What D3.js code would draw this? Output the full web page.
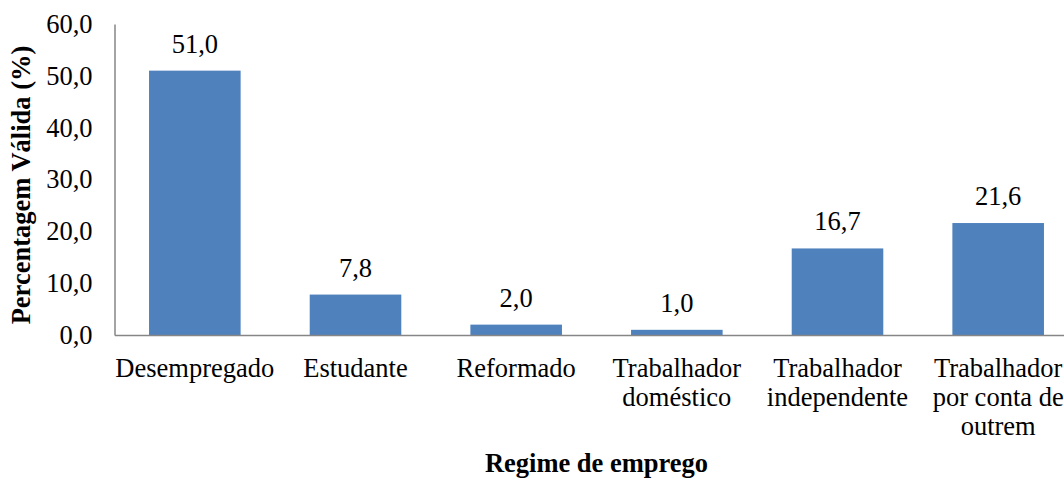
<!DOCTYPE html>
<html>
<head>
<meta charset="utf-8">
<script src="https://cdn.jsdelivr.net/npm/d3@7"></script>
<style>
  body { margin: 0; background: #fff; }
</style>
</head>
<body>
<svg id="chart"></svg>
<script>
const categories = ['Desempregado', 'Estudante', 'Reformado', 'Trabalhador\ndoméstico', 'Trabalhador\nindependente', 'Trabalhador\npor conta de\noutrem'];
const values = [51.0, 7.8, 2.0, 1.0, 16.7, 21.6];
const yTicks = [0, 10, 20, 30, 40, 50, 60];

const width = 1064;
const height = 480;
const plotLeft = 114.5;
const plotRight = 1078.5;
const plotTop = 24;
const plotBottom = 335;
const font = '"Liberation Serif"';
const fontSize = 26.5;

const fmt = v => v.toFixed(1).replace('.', ',');

const svg = d3.select('#chart')
  .attr('width', width)
  .attr('height', height)
  .attr('font-family', font)
  .attr('font-size', fontSize);

const x = d3.scaleBand()
  .domain(categories)
  .range([plotLeft, plotRight])
  .paddingInner(0.43)
  .paddingOuter(0.215);

const y = d3.scaleLinear().domain([0, 60]).range([plotBottom, plotTop]);

// bars
svg.selectAll('rect.bar')
  .data(values)
  .enter().append('rect')
  .attr('class', 'bar')
  .attr('x', (d, i) => x(categories[i]))
  .attr('width', x.bandwidth())
  .attr('y', d => y(d))
  .attr('height', d => y(0) - y(d))
  .attr('fill', '#4F81BD');

// value labels
svg.selectAll('text.val')
  .data(values)
  .enter().append('text')
  .attr('class', 'val')
  .attr('x', (d, i) => x(categories[i]) + x.bandwidth() / 2)
  .attr('y', d => y(d) - 18)
  .attr('text-anchor', 'middle')
  .attr('font-family', font)
  .attr('fill', '#000')
  .text(fmt);

// y axis
const yAxis = svg.append('g')
  .attr('transform', `translate(${plotLeft},0)`)
  .call(d3.axisLeft(y).tickValues(yTicks).tickSize(0).tickPadding(22).tickFormat(fmt))
  .attr('font-family', font)
  .attr('font-size', fontSize);
yAxis.select('.domain').attr('stroke', '#868686').attr('stroke-width', 1.5);
yAxis.selectAll('text').attr('fill', '#000');

// x axis
const xAxis = svg.append('g')
  .attr('transform', `translate(0,${plotBottom})`)
  .call(d3.axisBottom(x).tickSize(0).tickFormat(''));
xAxis.select('.domain').attr('stroke', '#868686').attr('stroke-width', 1.5);

// category labels, wrapped
categories.forEach(c => {
  const t = svg.append('text')
    .attr('text-anchor', 'middle')
    .attr('font-family', font)
    .attr('fill', '#000');
  c.split('\n').forEach((line, j) => {
    t.append('tspan')
      .attr('x', x(c) + x.bandwidth() / 2)
      .attr('y', 377 + j * 29)
      .text(line);
  });
});

// axis titles
svg.append('text')
  .attr('text-anchor', 'middle')
  .attr('transform', `translate(30,185) rotate(-90)`)
  .attr('font-family', font)
  .attr('font-weight', 'bold')
  .text('Percentagem Válida (%)');

svg.append('text')
  .attr('text-anchor', 'middle')
  .attr('x', (plotLeft + plotRight) / 2)
  .attr('y', 472)
  .attr('font-family', font)
  .attr('font-weight', 'bold')
  .text('Regime de emprego');
</script>
</body>
</html>
